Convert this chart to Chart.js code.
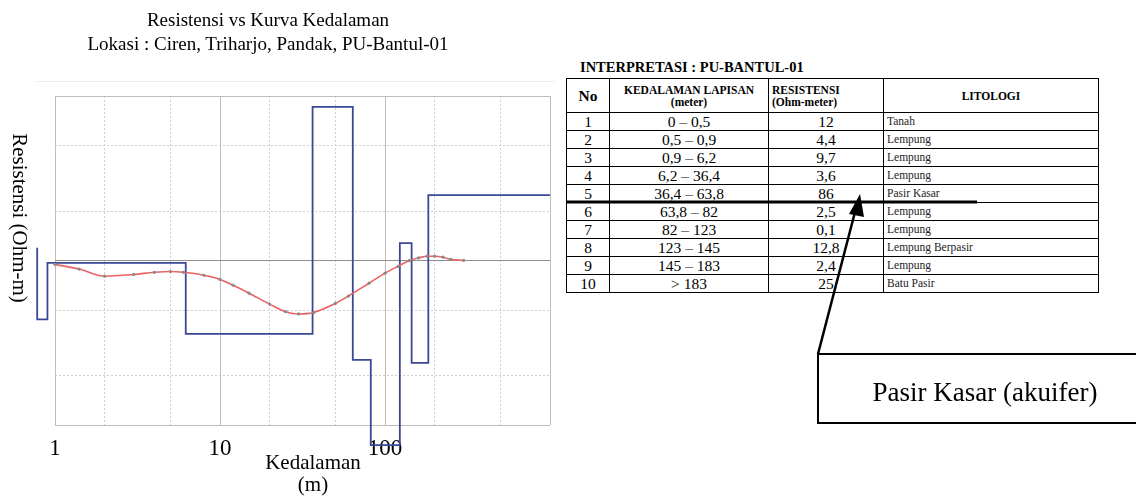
<!DOCTYPE html>
<html>
<head>
<meta charset="utf-8">
<script src="https://cdn.jsdelivr.net/npm/chart.js@4.4.1/dist/chart.umd.min.js"></script>
<style>
    body { margin: 0; background: #fff; font-family: "Liberation Serif", "Times New Roman", serif; color: #000; }
    #hoja { position: relative; width: 1136px; height: 497px; overflow: hidden; }
    #grafico { position: absolute; left: 0; top: 0; }
    .judul { position: absolute; left: 0; width: 536px; text-align: center; font-size: 19px; line-height: 24px; }
    #ejeY { position: absolute; left: 19px; top: 218px; transform: translate(-50%, -50%); writing-mode: vertical-rl; font-size: 21px; white-space: nowrap; }
    #ejeX { position: absolute; left: 213px; top: 451px; width: 200px; text-align: center; font-size: 21px; line-height: 22px; }
    #marco { position: absolute; left: 35px; top: 81px; width: 520px; border-top: 1px solid #eee; }
    #tituloTabla { position: absolute; left: 580px; top: 59px; font-size: 14.5px; font-weight: bold; }
    table { position: absolute; left: 566px; top: 78px; border-collapse: collapse; table-layout: fixed; }
    td, th { border: 1px solid #000; padding: 0 3px; height: 17px; font-size: 15.5px; line-height: 15px; text-align: center; }
    th { font-size: 11.5px; line-height: 12px; height: 33px; }
    th.no { font-size: 15.5px; }
    th.izq { text-align: left; }
    td.lito { text-align: left; font-size: 11.5px; color: #222; }
    #anotasi { position: absolute; left: 0; top: 0; }
    #kotak { position: absolute; left: 834px; top: 372px; width: 302px; text-align: center; font-size: 27px; line-height: 40px; }
</style>
</head>
<body>
<div id="hoja">
    <canvas id="grafico" width="560" height="497"></canvas>
    <div class="judul" style="top: 8px;">Resistensi vs Kurva Kedalaman</div>
    <div class="judul" style="top: 32px;">Lokasi : Ciren, Triharjo, Pandak, PU-Bantul-01</div>
    <div id="marco"></div>
    <div id="ejeY">Resistensi (Ohm-m)</div>
    <div id="ejeX">Kedalaman<br>(m)</div>
    <div id="tituloTabla">INTERPRETASI : PU-BANTUL-01</div>
    <table id="tabla"></table>
    <svg id="anotasi" width="1136" height="497">
        <line x1="566" y1="202" x2="977" y2="202" stroke="#000" stroke-width="3"/>
        <line x1="818" y1="354" x2="855" y2="212" stroke="#000" stroke-width="2.5"/>
        <polygon points="860,194 849,214 864,217" fill="#000"/>
        <polyline points="1136,354 818,354 818,423 1136,423" fill="none" stroke="#000" stroke-width="2"/>
    </svg>
    <div id="kotak">Pasir Kasar (akuifer)</div>
</div>
<script>
// Model lapisan (garis biru): batas kedalaman yang tampak dan resistensi
const batasLapisan = [0.78, 0.9, 6.2, 36.4, 63.8, 82, 123, 145, 183, 1000];
const resLapisan = [12, 4.4, 9.7, 3.6, 86, 2.5, 0.1, 12.8, 2.4, 25];
const resMinTampil = 0.76; // garis terpotong di bawah sumbu

// Kurva lapangan (merah) dengan titik data
const kedalamanKurva = [1, 1.4, 2, 3, 4, 5, 6, 8, 10, 12, 15, 20, 25, 30, 37, 50, 60, 80, 100, 120, 140, 160, 180, 200, 225, 250, 300];
const resKurva = [9.5, 8.9, 8.05, 8.25, 8.5, 8.6, 8.5, 8.15, 7.7, 7.1, 6.35, 5.45, 4.9, 4.75, 4.85, 5.5, 6.1, 7.3, 8.4, 9.25, 10.0, 10.4, 10.65, 10.65, 10.5, 10.2, 10.05];

// Sumbu
const xMayor = [1, 10, 100, 1000];
const xLabel = ['1', '10', '100', ''];
const xMinor = [2, 5, 20, 50, 200, 500];
const yMayor = [1, 10, 100];
const yMinor = [2, 5, 20, 50];

// Tabel interpretasi
const noLapisan = ['1', '2', '3', '4', '5', '6', '7', '8', '9', '10'];
const kedalamanLapisan = ['0 – 0,5', '0,5 – 0,9', '0,9 – 6,2', '6,2 – 36,4', '36,4 – 63,8', '63,8 – 82', '82 – 123', '123 – 145', '145 – 183', '> 183'];
const resistensiTeks = ['12', '4,4', '9,7', '3,6', '86', '2,5', '0,1', '12,8', '2,4', '25'];
const litologi = ['Tanah', 'Lempung', 'Lempung', 'Lempung', 'Pasir Kasar', 'Lempung', 'Lempung', 'Lempung Berpasir', 'Lempung', 'Batu Pasir'];

// Construir tabla
const tabla = document.getElementById('tabla');
let html = `<colgroup><col style="width:43px"><col style="width:159px"><col style="width:115px"><col style="width:215px"></colgroup>
<tr><th class="no">No</th><th>KEDALAMAN LAPISAN<br>(meter)</th><th class="izq">RESISTENSI<br>(Ohm-meter)</th><th>LITOLOGI</th></tr>`;
noLapisan.forEach((n, i) => {
    html += `<tr><td>${n}</td><td>${kedalamanLapisan[i]}</td><td>${resistensiTeks[i]}</td><td class="lito">${litologi[i]}</td></tr>`;
});
tabla.innerHTML = html;

// Puntos del modelo escalonado
const puntosModelo = [{ x: batasLapisan[0], y: resLapisan[0] }];
for (let i = 1; i < resLapisan.length; i++) {
    const r = Math.max(resLapisan[i], resMinTampil);
    puntosModelo.push({ x: batasLapisan[i - 1], y: r });
    puntosModelo.push({ x: batasLapisan[i], y: r });
}
const puntosKurva = kedalamanKurva.map((d, i) => ({ x: d, y: resKurva[i] }));

const fijarTicks = lista => axis => { axis.ticks = lista.map(v => ({ value: v })); };
// rango fijado después de los datos para que Chart.js no recorte los puntos < 1 m
const fijarRango = (min, max) => axis => { axis.min = min; axis.max = max; };

new Chart(document.getElementById('grafico'), {
    type: 'line',
    data: {
        datasets: [
            {
                data: puntosKurva,
                borderColor: 'rgb(236, 98, 98)',
                borderWidth: 1.6,
                cubicInterpolationMode: 'monotone',
                pointRadius: 1.6,
                pointBorderWidth: 0,
                pointBackgroundColor: '#8a8a8a',
                order: 1
            },
            {
                data: puntosModelo,
                borderColor: 'rgb(58, 72, 150)',
                borderWidth: 1.8,
                pointRadius: 0,
                tension: 0,
                clip: { left: 20, top: 0, right: 0, bottom: 22 },
                order: 2
            }
        ]
    },
    options: {
        responsive: false,
        animation: false,
        devicePixelRatio: 1,
        layout: { padding: { left: 55, top: 96, right: 10, bottom: 24 } },
        plugins: { legend: { display: false }, tooltip: { enabled: false } },
        scales: {
            x: {
                type: 'logarithmic', position: 'bottom', bounds: 'data',
                afterDataLimits: fijarRango(1, 1000),
                afterBuildTicks: fijarTicks(xMayor),
                ticks: {
                    autoSkip: false, maxRotation: 0, padding: 10, color: '#000',
                    font: { family: 'Liberation Serif', size: 23 },
                    callback: (v, i) => xLabel[i]
                },
                grid: { color: '#bdbdbd', drawTicks: false },
                border: { display: false }
            },
            x2: {
                axis: 'x', type: 'logarithmic', position: 'top', bounds: 'data',
                afterDataLimits: fijarRango(1, 1000),
                afterBuildTicks: fijarTicks(xMinor),
                ticks: { display: false },
                grid: { color: '#cfcfcf', drawTicks: false },
                border: { display: false, dash: [2, 2] }
            },
            y: {
                type: 'logarithmic', min: 1, max: 100,
                afterBuildTicks: fijarTicks(yMayor),
                ticks: { display: false },
                grid: { color: ctx => ctx.tick.value === 10 ? '#8f8f8f' : '#bdbdbd', drawTicks: false },
                border: { display: false }
            },
            y2: {
                axis: 'y', type: 'logarithmic', min: 1, max: 100, position: 'right',
                afterBuildTicks: fijarTicks(yMinor),
                ticks: { display: false },
                grid: { color: '#cfcfcf', drawTicks: false },
                border: { display: false, dash: [2, 2] }
            }
        }
    }
});
</script>
</body>
</html>
